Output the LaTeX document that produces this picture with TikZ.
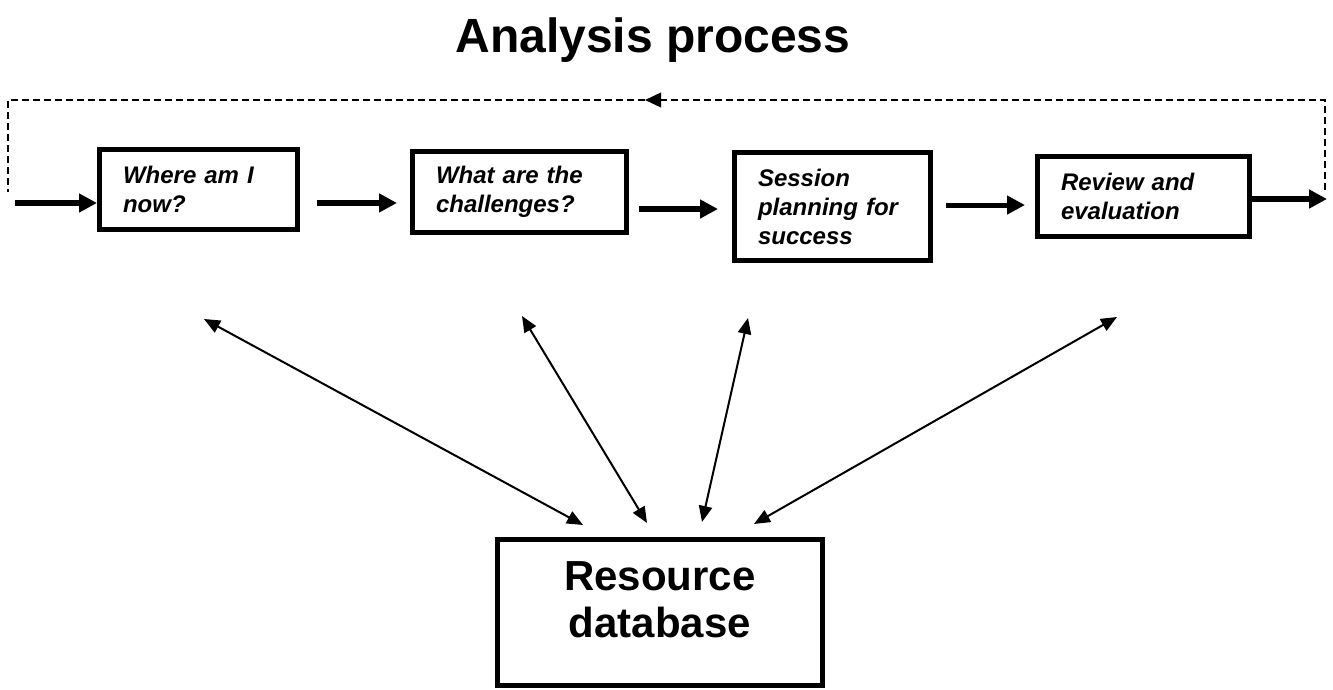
\documentclass[tikz,border=0pt]{standalone}
\usepackage{fontspec}
\setmainfont{Liberation Sans}
\usetikzlibrary{arrows.meta}

\begin{document}
\begin{tikzpicture}[x=0.75pt,y=-0.75pt,
		stagebox/.style={draw,line width=3.8pt,inner xsep=17.6pt,inner ysep=0pt,align=left,
			font=\bfseries\itshape\fontsize{18}{21.75}\selectfont},
		flow/.style={line width=3.8pt,-{Triangle[length=13.5pt,width=13.5pt]}},
		link/.style={line width=1.5pt,{Triangle[length=12pt,width=10pt]}-{Triangle[length=12pt,width=10pt]}},
		loop/.style={line width=1.1pt,dash pattern=on 5.25pt off 3pt}]
		\useasboundingbox (0,0) rectangle (1333,689);
		
		\node[font=\bfseries\fontsize{36}{40}\selectfont,anchor=base] (title) at (653,52) {Analysis process};
		
		\node[stagebox,text width=113.25pt,minimum height=60pt] (s1) at (198.5,189.5) {Where am I\\now?};
		\node[stagebox,text width=125.25pt,minimum height=60.75pt] (s2) at (519.5,192) {What are the\\challenges?};
		\node[stagebox,text width=111.75pt,minimum height=81pt] (s3) at (832.5,206.5) {Session\\planning for\\success};
		\node[stagebox,text width=123.75pt,minimum height=60pt] (s4) at (1143.5,196.5) {Review and\\evaluation};
		
		\node[draw,line width=3.8pt,align=center,minimum width=243.75pt,minimum height=109.5pt,text depth=19.5pt,
			font=\bfseries\fontsize{31.5}{35.25}\selectfont] (res) at (660,612.5) {Resource\\database};
		
		% main flow
		\coordinate (in) at (15,203);
		\coordinate (out) at (1327,199);
		\draw[flow] (in) -- (in -| s1.west);
		\draw[flow,shorten <=12.75pt,shorten >=9.75pt] ([yshift=-10.1pt]s1.east) -- ([yshift=-10.1pt]s1.east -| s2.west);
		\draw[flow,shorten <=7.5pt,shorten >=10.5pt] ([yshift=-12.75pt]s2.east) -- ([yshift=-12.75pt]s2.east -| s3.west);
		\draw[flow,shorten <=9.75pt,shorten >=7.5pt] ([yshift=1.1pt]s3.east) -- ([yshift=1.1pt]s3.east -| s4.west);
		\draw[flow] (s4.east |- out) -- (out);
		
		% feedback loop
		\coordinate (loopR) at (1325,190);
		\coordinate (loopM) at (645,100);
		\coordinate (loopL) at (8,192);
		\draw[loop,-{Triangle[length=12pt,width=11pt]}] (loopR) |- (loopM);
		\draw[loop] (loopM) -| (loopL);
		
		% links to the database
		\coordinate (t1) at (204,319);
		\coordinate (t2) at (522,316);
		\coordinate (t3) at (748,318);
		\coordinate (t4) at (1117,317);
		\draw[link] (t1) -- ([shift={(-77,-12)}]res.north);
		\draw[link] (t2) -- ([shift={(-13,-14)}]res.north);
		\draw[link] (t3) -- ([shift={(42,-15)}]res.north);
		\draw[link] (t4) -- ([shift={(94,-13)}]res.north);
\end{tikzpicture}
\end{document}
